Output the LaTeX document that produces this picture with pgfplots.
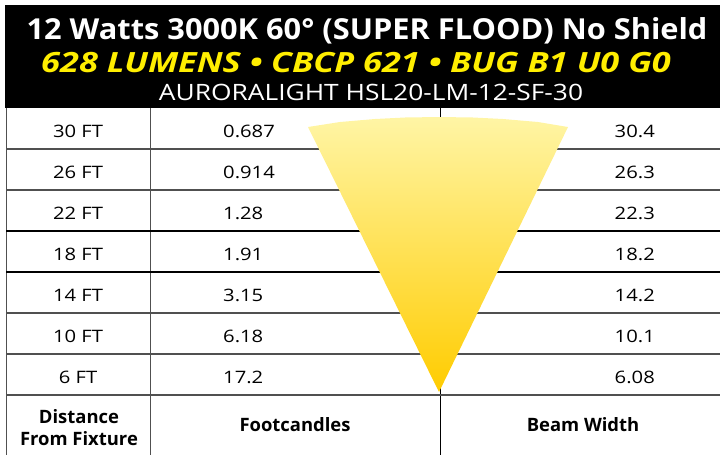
\documentclass[border=0pt]{standalone}
\usepackage{pgfplots}
\pgfplotsset{compat=1.18}
\usepackage{pgfplotstable}
\usepackage{fontspec}
\setmainfont{Open Sans}
\newfontfamily\bodyf{Open Sans}[FakeStretch=1.18]
\newfontfamily\ttlf{Open Sans}[FakeStretch=1.065]
\newfontfamily\yelf{Open Sans}[FakeStretch=1.23]
\newfontfamily\thirdf{Open Sans}[FakeStretch=1.17]
\definecolor{ttl}{RGB}{255,238,0}
\definecolor{lgr}{RGB}{80,80,80}
\definecolor{conetop}{RGB}{255,245,165}
\definecolor{conebot}{RGB}{255,204,0}
\pgfplotstableread{
y dist fc bw
131 {30 FT} 0.687 30.4
172 {26 FT} 0.914 26.3
213 {22 FT} 1.28 22.3
254 {18 FT} 1.91 18.2
295 {14 FT} 3.15 14.2
336 {10 FT} 6.18 10.1
377 {6 FT} 17.2 6.08
}\datatable
\begin{document}
\begin{tikzpicture}
\begin{axis}[
  scale only axis, width=720bp, height=455bp,
  xmin=0, xmax=720, ymin=0, ymax=455, y dir=reverse,
  axis lines=none, clip=false,
]
% header
\addplot[fill=black, draw=none] coordinates {(5,5)(720,5)(720,108)(5,108)} -- cycle;
% grid lines
\addplot[draw=lgr, line width=1pt] coordinates {(6,108)(6,455)};
\addplot[draw=lgr, line width=1pt] coordinates {(150,108)(150,455)};
\addplot[draw=black, line width=1pt] coordinates {(440,108)(440,455)};
\addplot[draw=lgr, line width=1.2pt] coordinates {(6,149)(720,149)};
\addplot[draw=lgr, line width=1.2pt] coordinates {(6,190)(720,190)};
\addplot[draw=black, line width=1.2pt] coordinates {(6,231)(720,231)};
\addplot[draw=black, line width=1.2pt] coordinates {(6,272)(720,272)};
\addplot[draw=lgr, line width=1.2pt] coordinates {(6,313)(720,313)};
\addplot[draw=lgr, line width=1.2pt] coordinates {(6,354)(720,354)};
\addplot[draw=lgr, line width=1.8pt] coordinates {(6,395)(720,395)};
% cone
\addplot[draw=none, top color=conetop, bottom color=conebot] coordinates {(308,127)(340,122)(375,119)(405,117.5)(439,117)(473,117.5)(503,119)(538,122)(568,127)(439,392)} -- cycle;
% values
\addplot[mark=none, draw=none, nodes near coords, point meta=explicit symbolic,
  every node near coord/.append style={anchor=center, inner sep=0pt, font=\bodyf\fontsize{17.2}{20}\selectfont, text=black}]
  table[x expr=78, y=y, meta=dist] {\datatable};
\addplot[mark=none, draw=none, nodes near coords, point meta=explicit symbolic,
  every node near coord/.append style={anchor=west, inner sep=0pt, font=\bodyf\fontsize{17.2}{20}\selectfont, text=black}]
  table[x expr=223, y=y, meta=fc] {\datatable};
\addplot[mark=none, draw=none, nodes near coords, point meta=explicit symbolic,
  every node near coord/.append style={anchor=east, inner sep=0pt, font=\bodyf\fontsize{17.2}{20}\selectfont, text=black}]
  table[x expr=655, y=y, meta=bw] {\datatable};
% header text
\node[text=white, font=\ttlf\fontsize{29}{32}\selectfont\bfseries, inner sep=0pt] at (axis cs:367,31) {12 Watts 3000K 60° (SUPER FLOOD) No Shield};
\node[text=ttl, font=\yelf\fontsize{28}{32}\selectfont\bfseries\itshape, inner sep=0pt] at (axis cs:356,63) {628 LUMENS • CBCP 621 • BUG B1 U0 G0};
\node[text=white, font=\thirdf\fontsize{22.6}{26}\selectfont, inner sep=0pt] at (axis cs:371,92) {AURORALIGHT HSL20-LM-12-SF-30};
% bottom header
\node[font=\fontsize{18.5}{21.5}\selectfont\bfseries, align=center, inner sep=0pt] at (axis cs:79,427.5) {Distance\\From Fixture};
\node[font=\fontsize{18.5}{20}\selectfont\bfseries, inner sep=0pt] at (axis cs:295,425) {Footcandles};
\node[font=\fontsize{18.5}{20}\selectfont\bfseries, inner sep=0pt] at (axis cs:583,425) {Beam Width};
\end{axis}
\pgfresetboundingbox
\path (current axis.south west) rectangle (current axis.north east);
\end{tikzpicture}
\end{document}
